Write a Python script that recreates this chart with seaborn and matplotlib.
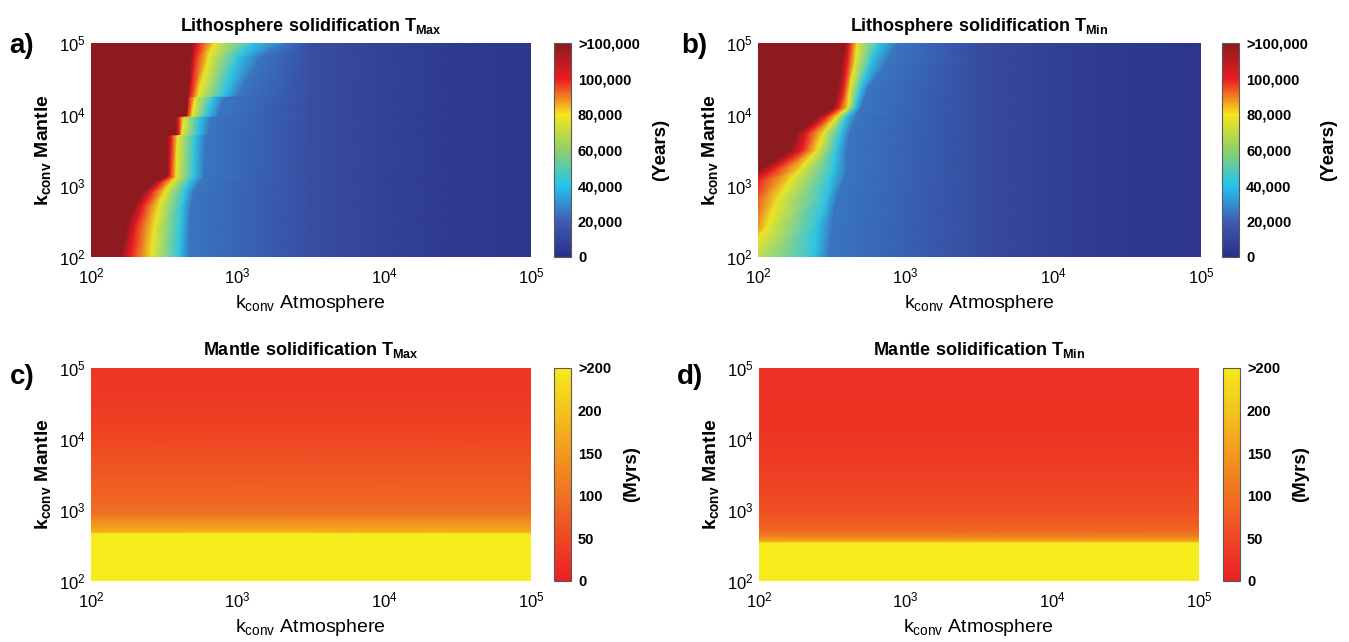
import numpy as np
import matplotlib
matplotlib.use("Agg")
import matplotlib.pyplot as plt
import seaborn as sns

# ---------------- data ----------------
# all k_conv values are given as log10

# lithosphere panels: for each mantle k_conv row, the atmosphere k_conv
# where the solidification time passes each level (years)
front_levels = [130000, 120000, 100000, 78000, 42000, 25000]
tail_x = [3.5, 4.0, 4.5, 5.0]

lith_max_rows = [2.0, 2.4, 2.7, 2.9, 3.05, 3.12, 3.14, 3.70, 3.72,
                 3.96, 3.98, 4.24, 4.26, 4.8, 5.0]
lith_max_front = [
    [2.20, 2.27, 2.41, 2.60, 2.67],
    [2.24, 2.30, 2.43, 2.61, 2.67],
    [2.29, 2.35, 2.46, 2.62, 2.68],
    [2.35, 2.41, 2.50, 2.64, 2.70],
    [2.43, 2.48, 2.55, 2.67, 2.74],
    [2.50, 2.53, 2.58, 2.69, 2.77],
    [2.52, 2.54, 2.58, 2.70, 2.77],
    [2.52, 2.55, 2.59, 2.71, 2.78],
    [2.58, 2.60, 2.62, 2.73, 2.80],
    [2.58, 2.60, 2.63, 2.74, 2.82],
    [2.65, 2.66, 2.69, 2.79, 2.87],
    [2.66, 2.67, 2.71, 2.83, 2.91],
    [2.66, 2.68, 2.73, 2.90, 3.00],
    [2.68, 2.71, 2.80, 3.00, 3.15],
    [2.69, 2.73, 2.84, 3.10, 3.32],
]
lith_max_tail = [14000, 8500, 5000, 3500]

lith_min_rows = [2.0, 2.42, 2.8, 3.08, 3.22, 3.5, 3.73, 3.96, 4.1, 4.34, 4.77, 5.0]
lith_min_front = [
    [1.60, 1.75, 1.90, 2.38, 2.48],
    [1.75, 1.90, 2.06, 2.40, 2.50],
    [1.78, 1.93, 2.13, 2.46, 2.53],
    [1.90, 2.00, 2.22, 2.49, 2.58],
    [2.01, 2.10, 2.28, 2.51, 2.60],
    [2.22, 2.30, 2.40, 2.53, 2.60],
    [2.26, 2.33, 2.44, 2.56, 2.62],
    [2.40, 2.46, 2.53, 2.60, 2.66],
    [2.51, 2.55, 2.61, 2.66, 2.70],
    [2.54, 2.58, 2.62, 2.69, 2.74],
    [2.57, 2.61, 2.66, 2.77, 2.88],
    [2.59, 2.62, 2.67, 2.82, 2.94],
]
lith_min_tail = [13000, 7500, 4000, 3000]

# mantle panels: time (Myrs) per mantle k_conv row, flat along the x axis
mantle_x = [2.0, 5.0]
mantle_max_rows = [2.0, 2.67, 2.69, 2.78, 2.88, 2.95, 3.1, 3.5, 4.0, 4.5, 5.0]
mantle_max_vals = [250, 250, 175, 150, 125, 100, 88, 70, 48, 34, 26]
mantle_min_rows = [2.0, 2.54, 2.56, 2.62, 2.68, 2.8, 3.0, 3.5, 4.0, 4.5, 5.0]
mantle_min_vals = [250, 250, 165, 125, 95, 75, 60, 40, 28, 24, 22]

decades = [2, 3, 4, 5]
years_ticks = [0, 20000, 40000, 60000, 80000, 100000, 120000]
years_labels = ['0', '20,000', '40,000', '60,000', '80,000', '100,000', '>100,000']
myrs_ticks = [0, 50, 100, 150, 200, 250]
myrs_labels = ['0', '50', '100', '150', '200', '>200']

# ---------------- style ----------------
sns.set_theme(style="white")
plt.rcParams['font.family'] = ['Liberation Sans', 'DejaVu Sans']
for key in ['text.color', 'axes.labelcolor', 'xtick.color', 'ytick.color']:
    plt.rcParams[key] = 'black'

jet_cmap = sns.blend_palette(["#2a2f88", "#3f5db0", "#25c4f0", "#8fcf6a",
                              "#f6e61c", "#ec1c24", "#8c1a1e"], as_cmap=True)
autumn_cmap = sns.blend_palette(["#ec1f25", "#f6eb1b"], as_cmap=True)


def lith_grid(rows, front, tail):
    X = [[1.0] + f + tail_x for f in front]
    C = [front_levels + tail for _ in front]
    Y = [[r] * len(X[0]) for r in rows]
    return 10 ** np.array(X), 10 ** np.array(Y), np.array(C, dtype=float)


def mantle_grid(rows, vals):
    X = [mantle_x for _ in rows]
    Y = [[r, r] for r in rows]
    C = [[v, v] for v in vals]
    return 10 ** np.array(X), 10 ** np.array(Y), np.array(C, dtype=float)


def draw_panel(fig, ax, cax, grid, cmap, vmax, ticks, labels, title, sub, unit, letter, lpos):
    X, Y, C = grid
    mesh = ax.pcolormesh(X, Y, C, cmap=cmap, vmin=0, vmax=vmax, shading='gouraud')
    ax.set_xscale('log')
    ax.set_yscale('log')
    ax.set_xlim(1e2, 1e5)
    ax.set_ylim(1e2, 1e5)
    ticks_k = [10.0 ** d for d in decades]
    tl = [r'$\mathregular{10^{%d}}$' % d for d in decades]
    ax.set_xticks(ticks_k)
    ax.set_xticklabels(tl)
    ax.set_yticks(ticks_k)
    ax.set_yticklabels(tl)
    ax.minorticks_off()
    ax.tick_params(labelsize=12, length=0)
    ax.tick_params(axis='x', pad=7)
    ax.tick_params(axis='y', pad=4)
    for s in ax.spines.values():
        s.set_visible(False)
    ax.set_title(title + r'$\mathregular{_{%s}}$' % sub, fontsize=13,
                 fontweight='bold', pad=9)
    ax.set_xlabel(r'k$\mathregular{_{conv}}$ Atmosphere', fontsize=14, labelpad=5)
    ax.set_ylabel(r'k$\mathregular{_{conv}}$ Mantle', fontsize=14,
                  fontweight='bold', labelpad=4)

    cb = fig.colorbar(mesh, cax=cax, ticks=ticks)
    cb.ax.set_yticklabels(labels)
    for t in cb.ax.get_yticklabels():
        t.set_fontweight('bold')
        t.set_fontsize(10.5)
    cb.ax.tick_params(length=0, pad=5)
    cb.outline.set_linewidth(0.8)
    cb.outline.set_edgecolor('0.35')
    cb.set_label(unit, fontsize=13.5, fontweight='bold', labelpad=9)

    fig.text(lpos[0], lpos[1], letter, fontsize=20, fontweight='bold',
             ha='left', va='center')


fig = plt.figure(figsize=(13.49, 6.42), dpi=100)

ax_a = fig.add_axes([0.0675, 0.600, 0.326, 0.3325])
cax_a = fig.add_axes([0.4107, 0.600, 0.0126, 0.3325])
ax_b = fig.add_axes([0.5619, 0.600, 0.3284, 0.3325])
cax_b = fig.add_axes([0.9059, 0.600, 0.0126, 0.3325])
ax_c = fig.add_axes([0.0675, 0.0955, 0.326, 0.3313])
cax_c = fig.add_axes([0.4107, 0.0955, 0.0126, 0.3313])
ax_d = fig.add_axes([0.5626, 0.0955, 0.3262, 0.3313])
cax_d = fig.add_axes([0.9066, 0.0955, 0.0126, 0.3313])

draw_panel(fig, ax_a, cax_a, lith_grid(lith_max_rows, lith_max_front, lith_max_tail),
           jet_cmap, 120000, years_ticks, years_labels,
           'Lithosphere solidification T', 'Max', '(Years)', 'a)', (0.007, 0.928))
draw_panel(fig, ax_b, cax_b, lith_grid(lith_min_rows, lith_min_front, lith_min_tail),
           jet_cmap, 120000, years_ticks, years_labels,
           'Lithosphere solidification T', 'Min', '(Years)', 'b)', (0.505, 0.928))
draw_panel(fig, ax_c, cax_c, mantle_grid(mantle_max_rows, mantle_max_vals),
           autumn_cmap, 250, myrs_ticks, myrs_labels,
           'Mantle solidification T', 'Max', '(Myrs)', 'c)', (0.007, 0.413))
draw_panel(fig, ax_d, cax_d, mantle_grid(mantle_min_rows, mantle_min_vals),
           autumn_cmap, 250, myrs_ticks, myrs_labels,
           'Mantle solidification T', 'Min', '(Myrs)', 'd)', (0.502, 0.413))

fig.savefig('out.png', dpi=100)
